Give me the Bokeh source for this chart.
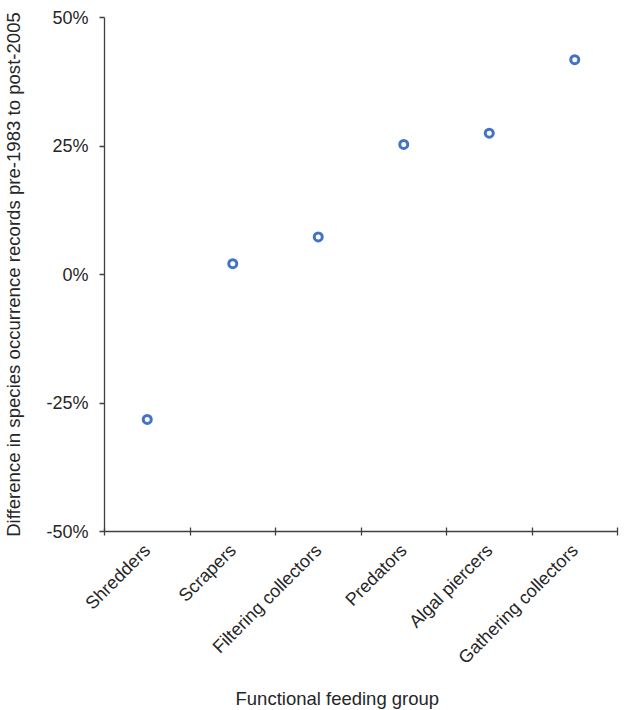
import math
from bokeh.plotting import figure
from bokeh.models import ColumnDataSource, FixedTicker, NumeralTickFormatter, Range1d, Title
from bokeh.embed import file_html
from bokeh.resources import INLINE

groups = ["Shredders", "Scrapers", "Filtering collectors", "Predators",
          "Algal piercers", "Gathering collectors"]
diff = [-0.282, 0.021, 0.073, 0.253, 0.275, 0.418]
y_ticks = [-0.5, -0.25, 0.0, 0.25, 0.5]
x_title = "Functional feeding group"
y_title = "Difference in species occurrence records pre-1983 to post-2005"

xpos = [i + 0.5 for i in range(len(groups))]
boundaries = list(range(len(groups) + 1))

src = ColumnDataSource(dict(x=xpos, y=diff, g=groups))

FONT = "Liberation Sans"
TXT = "#262626"
AX = "#404040"

p = figure(frame_width=513, frame_height=514, output_backend="svg", toolbar_location=None,
           x_range=Range1d(0, len(groups)), y_range=Range1d(-0.5, 0.5),
           min_border_left=104, min_border_right=12, min_border_top=17,
           min_border_bottom=165)
p.outline_line_color = None
p.grid.visible = False
p.background_fill_color = "white"

p.scatter("x", "y", source=src, size=8, marker="circle", fill_color="white",
          line_color="#4472C4", line_width=3)

# x axis
xa = p.xaxis[0]
xa.ticker = FixedTicker(ticks=xpos, minor_ticks=boundaries)
xa.major_label_overrides = {x: g for x, g in zip(xpos, groups)}
xa.major_tick_line_color = None
xa.minor_tick_in = 4
xa.minor_tick_out = 4
xa.minor_tick_line_color = AX
xa.minor_tick_line_width = 1.3
xa.axis_line_color = AX
xa.axis_line_width = 1.3
xa.major_label_orientation = math.pi / 4
xa.major_label_standoff = 10
xa.major_label_text_font = FONT
xa.major_label_text_font_size = "18px"
xa.major_label_text_color = TXT

# y axis
ya = p.yaxis[0]
ya.ticker = FixedTicker(ticks=y_ticks)
ya.formatter = NumeralTickFormatter(format="0%")
ya.major_tick_in = 0
ya.major_tick_out = 5
ya.major_tick_line_color = AX
ya.major_tick_line_width = 1.3
ya.minor_tick_line_color = None
ya.axis_line_color = AX
ya.axis_line_width = 1.3
ya.major_label_standoff = 11
ya.major_label_text_font = FONT
ya.major_label_text_font_size = "18px"
ya.major_label_text_color = TXT
ya.axis_label = y_title
ya.axis_label_text_font = FONT
ya.axis_label_text_font_size = "18.6px"
ya.axis_label_text_font_style = "normal"
ya.axis_label_text_color = TXT
ya.axis_label_standoff = 19

p.add_layout(Title(text=x_title, align="left", offset=131,
                   text_font=FONT, text_font_size="18.5px",
                   text_font_style="normal", text_color=TXT,
                   standoff=16), "below")

open("out.html", "w").write(file_html(p, INLINE))
